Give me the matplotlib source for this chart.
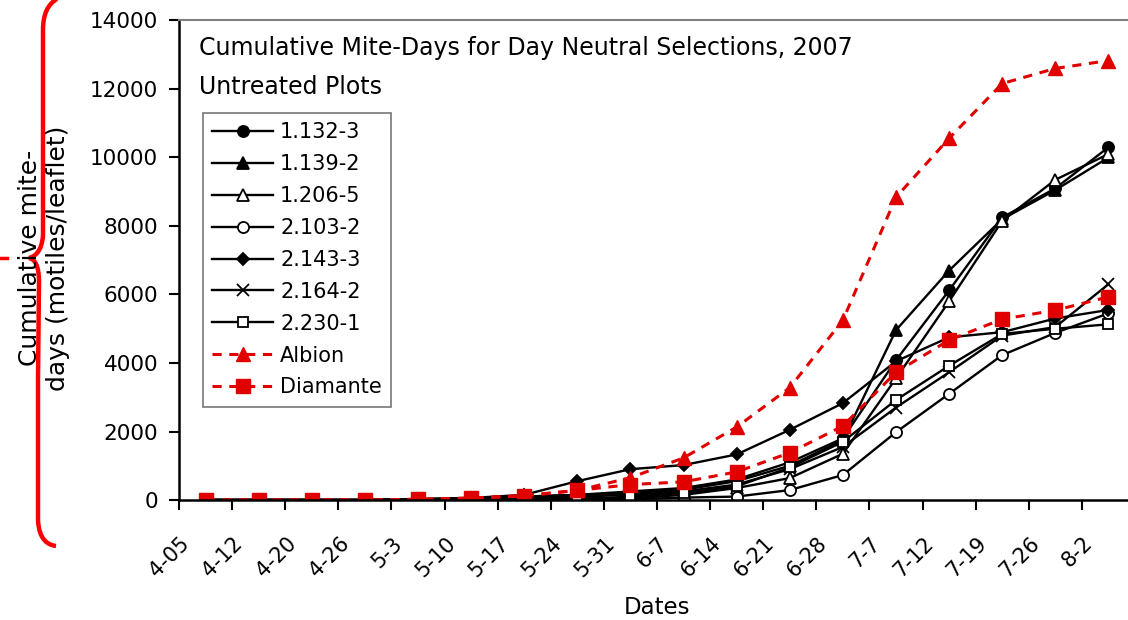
import numpy as np
import matplotlib.pyplot as plt
from matplotlib.transforms import Affine2D, ScaledTranslation
from matplotlib.path import Path
from matplotlib.patches import PathPatch

plt.rcParams['font.family'] = ['DejaVu Sans']

# dates (category axis)
dates = ['4-05', '4-12', '4-20', '4-26', '5-3', '5-10', '5-17', '5-24', '5-31',
         '6-7', '6-14', '6-21', '6-28', '7-7', '7-12', '7-19', '7-26', '8-2']

# cumulative mite-days per selection
s1132_3 = [0, 0, 0, 0, 20, 50, 100, 150, 250, 350, 600, 1100, 1800, 4080, 6120, 8250, 9100, 10300]
s1139_2 = [0, 0, 0, 0, 20, 50, 100, 150, 200, 300, 550, 1000, 1750, 4960, 6700, 8200, 9050, 10000]
s1206_5 = [0, 0, 0, 0, 10, 30, 60, 50, 50, 150, 350, 640, 1350, 3550, 5800, 8150, 9350, 10100]
s2103_2 = [0, 0, 0, 0, 0, 10, 20, 0, 20, 70, 100, 290, 730, 1980, 3100, 4230, 4880, 5450]
s2143_3 = [0, 0, 0, 0, 30, 60, 150, 550, 900, 1020, 1330, 2050, 2830, 4050, 4750, 4900, 5300, 5550]
s2164_2 = [0, 0, 0, 0, 10, 40, 80, 100, 150, 250, 450, 900, 1550, 2700, 3730, 4800, 5050, 6300]
s2230_1 = [0, 0, 0, 0, 10, 30, 60, 20, 100, 200, 400, 950, 1700, 2920, 3920, 4850, 5000, 5130]
albion = [0, 0, 0, 0, 20, 50, 120, 280, 650, 1230, 2130, 3280, 5250, 8840, 10560, 12160, 12600, 12830]
diamante = [0, 0, 0, 0, 20, 60, 130, 280, 450, 530, 820, 1380, 2160, 3730, 4670, 5280, 5540, 5930]

W, H = 1128, 620
fig = plt.figure(figsize=(W / 100, H / 100), dpi=100)
ax = fig.add_axes([179 / W, (H - 500) / H, 956 / W, 479.5 / H])

x = np.arange(len(dates))
red = '#e00000'
blk = dict(color='black', lw=1.7, mec='black', mew=1.3)
ax.plot(x, s1132_3, marker='o', ms=8, mfc='black', label='1.132-3', **blk)
ax.plot(x, s1139_2, marker='^', ms=8.5, mfc='black', label='1.139-2', **blk)
ax.plot(x, s1206_5, marker='^', ms=8.5, mfc='white', label='1.206-5', **blk)
ax.plot(x, s2103_2, marker='o', ms=8, mfc='white', label='2.103-2', **blk)
ax.plot(x, s2143_3, marker='D', ms=6.5, mfc='black', label='2.143-3', **blk)
ax.plot(x, s2164_2, marker='x', ms=8.5, mfc='black', label='2.164-2', **blk)
ax.plot(x, s2230_1, marker='s', ms=7.5, mfc='white', label='2.230-1', **blk)
ax.plot(x, albion, color=red, lw=2.2, ls=(0, (3, 2.5)), marker='^', ms=10.5,
        mfc=red, mec=red, label='Albion')
ax.plot(x, diamante, color=red, lw=2.2, ls=(0, (3, 2.5)), marker='s', ms=10,
        mfc=red, mec=red, label='Diamante')

ax.set_xlim(-0.5, len(dates) - 0.5)
ax.set_ylim(0, 14000)
ax.set_yticks(np.arange(0, 14001, 2000))
ax.tick_params(axis='y', labelsize=15.5, length=7, width=1.5, pad=8, direction='out')

ax.set_xticks(x)
ax.set_xticklabels(dates, rotation=45, ha='right', va='center', rotation_mode='anchor')
ax.set_xticks(np.arange(-0.5, len(dates), 1), minor=True)
ax.tick_params(axis='x', which='major', length=0, labelsize=15, pad=29)
ax.tick_params(axis='x', which='minor', length=7, width=1.5, direction='out')
shift = ScaledTranslation(-19 / 100, 0, fig.dpi_scale_trans)
for lab in ax.get_xticklabels():
    lab.set_transform(lab.get_transform() + shift)

for s in ['left', 'bottom']:
    ax.spines[s].set_linewidth(1.8)
ax.spines['top'].set_color('#808080')
ax.spines['top'].set_linewidth(1.5)
ax.spines['right'].set_visible(False)

ax.set_xlabel('Dates', fontsize=16.5, labelpad=11)
fig.text(44 / W, 1 - 258 / H, 'Cumulative mite-\ndays (motiles/leaflet)', rotation=90,
         ha='center', va='center', ma='center', fontsize=18, linespacing=1.25)

fig.text(199 / W, 1 - 48 / H, 'Cumulative Mite-Days for Day Neutral Selections, 2007',
         fontsize=17, va='center', ha='left')
fig.text(199 / W, 1 - 87 / H, 'Untreated Plots', fontsize=17, va='center', ha='left')

leg = ax.legend(loc='upper left', bbox_to_anchor=(203 / W, 1 - 113 / H),
                bbox_transform=fig.transFigure, fontsize=15, frameon=True, fancybox=False,
                edgecolor='#555555', handlelength=2.9, handletextpad=0.35,
                labelspacing=0.57, borderpad=0.45, borderaxespad=0)
leg.get_frame().set_linewidth(1.2)

# red brace drawn on the left side of the image
px = Affine2D().scale(1 / W, -1 / H).translate(0, 1) + fig.transFigure
verts = [(57, -1), (48, 4), (43, 14), (43, 30),
         (43, 120), (43, 200), (43, 235),
         (42, 252), (34, 257), (29, 258),
         (34, 259), (39, 264), (39, 282),
         (38, 380), (38, 480), (38, 520),
         (39, 540), (48, 545), (56, 546)]
codes = [Path.MOVETO, Path.CURVE4, Path.CURVE4, Path.CURVE4,
         Path.LINETO, Path.LINETO, Path.LINETO,
         Path.CURVE4, Path.CURVE4, Path.CURVE4,
         Path.CURVE4, Path.CURVE4, Path.CURVE4,
         Path.LINETO, Path.LINETO, Path.LINETO,
         Path.CURVE4, Path.CURVE4, Path.CURVE4]
fig.add_artist(PathPatch(Path(verts, codes), transform=px, fill=False,
                         edgecolor='red', lw=3.2, clip_on=False))
fig.add_artist(plt.Line2D([0, 7], [258, 258], transform=px, color='red', lw=2.5))

fig.savefig('out.png', dpi=100)
